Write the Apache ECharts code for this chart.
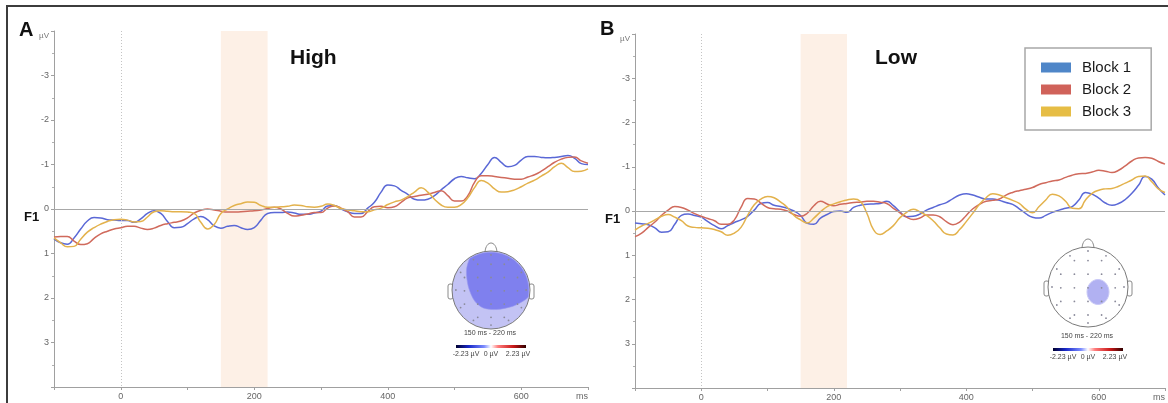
<!DOCTYPE html>
<html>
<head>
<meta charset="utf-8">
<script src="https://cdn.jsdelivr.net/npm/echarts@6/dist/echarts.min.js"></script>
<style>
html,body{margin:0;padding:0;background:#fff;}
#chart{width:1168px;height:403px;}
</style>
</head>
<body>
<div id="chart"></div>
<script>
// Time axis of the grand averages (ms relative to stimulus onset)
const timeMs = [-100,-90,-80,-70,-60,-50,-40,-30,-20,-10,
                0,10,20,30,40,50,60,70,80,90,100,110,120,130,140,150,160,170,180,190,
                200,210,220,230,240,250,260,270,280,290,300,310,320,330,340,350,360,370,380,390,
                400,410,420,430,440,450,460,470,480,490,500,510,520,530,540,550,560,570,580,590,
                600,610,620,630,640,650,660,670,680,690,700];

// Channel F1, amplitude in µV (negative plotted upwards)
const highBlock1 = [0.67,0.76,0.79,0.65,0.45,0.27,0.19,0.2,0.24,0.25,
                    0.26,0.26,0.3,0.22,0.1,0.04,0.1,0.28,0.42,0.41,0.33,0.22,0.17,0.24,0.38,0.43,0.39,0.37,0.42,0.46,
                    0.42,0.25,0.1,0.08,0.08,0.07,0.09,0.12,0.12,0.09,0.05,-0.07,-0.08,0.0,0.06,0.1,0.1,-0.02,-0.15,-0.38,
                    -0.54,-0.52,-0.42,-0.33,-0.22,-0.2,-0.22,-0.3,-0.43,-0.55,-0.68,-0.73,-0.7,-0.68,-0.8,-1.0,-1.16,-1.05,-0.95,-0.98,
                    -1.1,-1.18,-1.18,-1.16,-1.15,-1.16,-1.18,-1.2,-1.14,-1.02,-1.0];
const highBlock2 = [0.63,0.62,0.62,0.72,0.8,0.78,0.66,0.56,0.5,0.45,
                    0.42,0.39,0.39,0.43,0.46,0.43,0.37,0.33,0.3,0.27,0.2,0.09,0.03,0.0,0.02,0.05,0.07,0.07,0.06,0.05,
                    0.04,0.02,-0.01,-0.04,0.0,0.1,0.16,0.14,0.11,0.08,0.08,-0.02,-0.07,-0.02,0.06,0.18,0.18,0.06,-0.05,-0.06,
                    -0.03,-0.05,-0.15,-0.25,-0.28,-0.31,-0.33,-0.37,-0.41,-0.3,-0.18,-0.18,-0.3,-0.6,-0.75,-0.75,-0.73,-0.71,-0.69,-0.67,
                    -0.67,-0.72,-0.77,-0.85,-0.95,-1.05,-1.12,-1.16,-1.17,-1.08,-1.03];
const highBlock3 = [0.65,0.76,0.85,0.84,0.68,0.52,0.42,0.34,0.28,0.24,
                    0.23,0.25,0.29,0.28,0.18,0.06,0.04,0.05,0.06,0.06,0.07,0.1,0.3,0.45,0.35,0.1,0.0,-0.08,-0.12,-0.16,
                    -0.15,-0.08,-0.04,-0.04,-0.05,-0.06,-0.09,-0.08,-0.05,-0.04,-0.06,-0.11,-0.08,-0.01,0.02,0.04,0.06,0.06,0.02,-0.02,
                    -0.1,-0.16,-0.2,-0.28,-0.38,-0.48,-0.38,-0.22,-0.09,-0.04,-0.04,-0.1,-0.25,-0.48,-0.64,-0.58,-0.45,-0.38,-0.39,-0.43,
                    -0.5,-0.58,-0.65,-0.74,-0.83,-0.95,-1.03,-0.93,-0.84,-0.85,-0.9];

const lowBlock1 = [0.27,0.29,0.31,0.38,0.48,0.47,0.3,0.1,0.07,0.1,
                   0.14,0.24,0.33,0.4,0.33,0.26,0.2,0.12,-0.02,-0.17,-0.19,-0.13,-0.1,-0.06,0.0,0.1,0.28,0.3,0.16,0.08,
                   0.01,0.0,0.03,-0.08,-0.13,-0.15,-0.16,-0.17,-0.22,-0.12,0.02,0.13,0.12,0.07,-0.02,-0.08,-0.14,-0.19,-0.28,-0.36,
                   -0.39,-0.36,-0.31,-0.27,-0.27,-0.24,-0.19,-0.15,-0.05,0.06,0.14,0.16,0.1,0.03,-0.02,-0.06,-0.1,-0.25,-0.42,-0.38,
                   -0.29,-0.18,-0.13,-0.17,-0.26,-0.4,-0.58,-0.78,-0.72,-0.52,-0.36];
const lowBlock2 = [0.58,0.5,0.37,0.25,0.1,-0.02,-0.1,-0.08,-0.02,0.06,
                   0.12,0.17,0.22,0.3,0.3,0.2,-0.08,-0.28,-0.27,-0.18,-0.08,-0.05,-0.04,0.0,0.08,0.12,0.05,-0.12,-0.22,-0.16,
                   -0.12,-0.15,-0.17,-0.19,-0.2,-0.22,-0.22,-0.2,-0.17,-0.06,0.04,0.14,0.19,0.16,0.09,0.09,0.13,0.24,0.31,0.25,
                   0.1,-0.05,-0.15,-0.22,-0.24,-0.27,-0.36,-0.42,-0.46,-0.49,-0.53,-0.6,-0.64,-0.68,-0.7,-0.76,-0.81,-0.84,-0.85,-0.88,
                   -0.92,-0.9,-0.87,-0.92,-1.02,-1.13,-1.2,-1.21,-1.19,-1.12,-1.06];
const lowBlock3 = [0.43,0.34,0.28,0.2,0.12,0.08,0.14,0.22,0.34,0.37,
                   0.38,0.39,0.42,0.47,0.55,0.5,0.37,0.1,-0.14,-0.27,-0.33,-0.3,-0.2,-0.08,0.1,0.2,0.27,0.16,0.02,-0.1,
                   -0.16,-0.21,-0.25,-0.27,-0.22,0.05,0.42,0.53,0.45,0.33,0.15,0.03,-0.04,0.02,0.1,0.22,0.38,0.52,0.54,0.42,
                   0.24,0.05,-0.15,-0.3,-0.39,-0.36,-0.3,-0.24,-0.17,-0.04,0.04,-0.1,-0.25,-0.38,-0.34,-0.22,-0.06,-0.05,-0.25,-0.4,
                   -0.47,-0.5,-0.51,-0.56,-0.63,-0.7,-0.78,-0.79,-0.66,-0.5,-0.42];

const blockNames = ['Block 1', 'Block 2', 'Block 3'];
const panelTitles = ['High', 'Low'];
const panelLetters = ['A', 'B'];
const channelName = 'F1';
const windowMs = [150, 220];
const windowLabel = '150 ms - 220 ms';
const scaleLabels = ['-2.23 µV', '0 µV', '2.23 µV'];
const timeUnit = 'ms';
const ampUnit = 'µV';

const lineColors = ['#5a68d6', '#d06a5c', '#e3b24c'];
const legendColors = ['#4f86c8', '#d0625a', '#e6bd45'];
const FONT = 'Liberation Sans, Arial, sans-serif';

function pairs(vals) { return timeMs.map((t, i) => [t, vals[i]]); }

const grids = [
  { left: 54, right: 580, top: 31, bottom: 16 },
  { left: 635, right: 1, top: 34, bottom: 15 }
];

function xAxisFor(g) {
  return {
    gridIndex: g, type: 'value', min: -100, max: 700, interval: 100,
    axisLine: { show: true, onZero: false, lineStyle: { color: '#a0a0a0', width: 1 } },
    axisTick: { show: true, length: 3, lineStyle: { color: '#a0a0a0' } },
    axisLabel: {
      fontSize: 9, color: '#666', fontFamily: FONT, margin: 5, alignMaxLabel: 'right',
      formatter: v => v === 700 ? timeUnit : (v % 200 === 0 ? String(v) : '')
    },
    splitLine: { show: false }
  };
}
function yAxisFor(g) {
  return {
    gridIndex: g, type: 'value', min: -4, max: 4, interval: 1, inverse: true,
    axisLine: { show: true, onZero: false, lineStyle: { color: '#a0a0a0', width: 1 } },
    axisTick: { show: true, length: 3, lineStyle: { color: '#a0a0a0' } },
    minorTick: { show: true, splitNumber: 2, length: 2, lineStyle: { color: '#b0b0b0' } },
    axisLabel: {
      fontSize: 9, color: '#666', fontFamily: FONT, margin: 5,
      formatter: v => v === -4 ? '{u|' + ampUnit + '}' : (v === 4 ? '' : String(v)),
      rich: { u: { fontSize: 8, color: '#777', fontFamily: FONT, padding: [9, 0, 0, 0] } }
    },
    splitLine: { show: false }
  };
}

// Reference lines, stimulus onset and analysis window for each panel
function guideSeries(g) {
  return {
    type: 'line', xAxisIndex: g, yAxisIndex: g, z: 1, silent: true,
    data: [[0, 0]], showSymbol: false, lineStyle: { width: 0, opacity: 0 },
    markArea: {
      silent: true, itemStyle: { color: '#fdf0e6' },
      data: [[{ xAxis: windowMs[0] }, { xAxis: windowMs[1] }]]
    },
    markLine: {
      silent: true, symbol: 'none', label: { show: false },
      data: [
        { xAxis: 0, lineStyle: { color: '#c4c4c4', type: [1, 2], width: 1 } },
        { yAxis: 0, lineStyle: { color: '#a8a8a8', type: 'solid', width: 1 } }
      ]
    }
  };
}

function blockSeries(g, sets) {
  return sets.map((vals, i) => ({
    name: blockNames[i], type: 'line', xAxisIndex: g, yAxisIndex: g, z: 3,
    data: pairs(vals), smooth: 0.5, showSymbol: false, silent: true,
    lineStyle: { color: lineColors[i], width: 1.5 }, itemStyle: { color: lineColors[i] }
  }));
}

// Scalp map drawing helpers
function electrodes(cx, cy, r) {
  const els = [];
  const step = 0.34;
  for (let i = -2; i <= 2; i++) {
    for (let j = -2; j <= 2; j++) {
      const dx = i * step, dy = j * step + 0.02;
      if (Math.hypot(dx, dy) < 0.8) els.push([dx, dy]);
    }
  }
  for (let a = 0; a < 360; a += 30) {
    const rad = a * Math.PI / 180;
    els.push([0.9 * Math.cos(rad), 0.9 * Math.sin(rad)]);
  }
  return els.map(([dx, dy]) => ({
    type: 'circle', silent: true, z: 12,
    shape: { cx: cx + dx * r, cy: cy + dy * r, r: 0.9 },
    style: { fill: '#8a8a9a' }
  }));
}

function headOutline(cx, cy, r, fill) {
  return [
    { type: 'bezierCurve', silent: true, z: 9,
      shape: { x1: cx - 6, y1: cy - r + 1, x2: cx + 6, y2: cy - r + 1,
               cpx1: cx - 5, cpy1: cy - r - 11, cpx2: cx + 5, cpy2: cy - r - 11 },
      style: { stroke: '#8a8a8a', lineWidth: 1, fill: 'none' } },
    { type: 'rect', silent: true, z: 9, shape: { x: cx - r - 4, y: cy - 6, width: 5, height: 15, r: 2 },
      style: { fill: '#fff', stroke: '#8a8a8a', lineWidth: 1 } },
    { type: 'rect', silent: true, z: 9, shape: { x: cx + r - 1, y: cy - 6, width: 5, height: 15, r: 2 },
      style: { fill: '#fff', stroke: '#8a8a8a', lineWidth: 1 } },
    { type: 'circle', silent: true, z: 10, shape: { cx, cy, r },
      style: { fill: fill, stroke: '#7a7a7a', lineWidth: 1 } }
  ];
}

function scaleBar(cx, y) {
  return [
    { type: 'text', silent: true, z: 12, x: cx - 1, y: y - 13,
      style: { text: windowLabel, font: '7px ' + FONT, fill: '#444', align: 'center', verticalAlign: 'middle' } },
    { type: 'rect', silent: true, z: 12, shape: { x: cx - 35, y: y - 1, width: 70, height: 3 },
      style: { fill: new echarts.graphic.LinearGradient(0, 0, 1, 0, [
        { offset: 0, color: '#000030' }, { offset: 0.18, color: '#1828c8' },
        { offset: 0.4, color: '#7c8cff' }, { offset: 0.5, color: '#ffffff' },
        { offset: 0.6, color: '#ff7c7c' }, { offset: 0.82, color: '#c81818' },
        { offset: 1, color: '#300000' }]) } },
    { type: 'text', silent: true, z: 12, x: cx - 25, y: y + 8,
      style: { text: scaleLabels[0], font: '7px ' + FONT, fill: '#444', align: 'center', verticalAlign: 'middle' } },
    { type: 'text', silent: true, z: 12, x: cx + 0, y: y + 8,
      style: { text: scaleLabels[1], font: '7px ' + FONT, fill: '#444', align: 'center', verticalAlign: 'middle' } },
    { type: 'text', silent: true, z: 12, x: cx + 27, y: y + 8,
      style: { text: scaleLabels[2], font: '7px ' + FONT, fill: '#444', align: 'center', verticalAlign: 'middle' } }
  ];
}

function highMap(cx, cy, r) {
  // darker central/right area of the map
  const pts = [];
  for (let a = -125; a <= 12; a += 4) {
    const rad = a * Math.PI / 180;
    pts.push([cx + r * 0.97 * Math.cos(rad), cy + r * 0.97 * Math.sin(rad)]);
  }
  const inner = [[0.8, 0.3], [0.55, 0.42], [0.15, 0.5], [-0.2, 0.46], [-0.42, 0.28], [-0.58, -0.08], [-0.63, -0.5]];
  inner.forEach(([dx, dy]) => pts.push([cx + dx * r, cy + dy * r]));
  return headOutline(cx, cy, r, '#c3c3f4').concat([
    { type: 'polygon', silent: true, z: 11, shape: { points: pts, smooth: 0.3 },
      style: { fill: '#7f80ee', stroke: '#9a9af0', lineWidth: 0.6 } }
  ], electrodes(cx, cy, r), scaleBar(cx, cy + 56));
}

function lowMap(cx, cy, r) {
  return headOutline(cx, cy, r, '#ffffff').concat([
    { type: 'ellipse', silent: true, z: 11, shape: { cx: cx + 10, cy: cy + 5, rx: 11, ry: 12.5 },
      style: { fill: '#b1b1f2', stroke: '#c9c9f7', lineWidth: 1 } }
  ], electrodes(cx, cy, r), scaleBar(cx, cy + 62));
}

function label(text, x, y, size, align) {
  return { type: 'text', silent: true, z: 20, x, y,
    style: { text, font: 'bold ' + size + 'px ' + FONT, fill: '#111', align: align || 'left', verticalAlign: 'middle' } };
}

const chart = echarts.init(document.getElementById('chart'), null, { renderer: 'canvas' });
chart.setOption({
  animation: false,
  backgroundColor: '#ffffff',
  grid: grids,
  xAxis: [xAxisFor(0), xAxisFor(1)],
  yAxis: [yAxisFor(0), yAxisFor(1)],
  legend: {
    left: 1025, top: 48, orient: 'vertical', selectedMode: false,
    itemWidth: 30, itemHeight: 10, itemGap: 5,
    padding: [11, 20, 10, 16],
    borderColor: '#a8a8a8', borderWidth: 1.5, backgroundColor: '#fff',
    textStyle: { fontSize: 15, fontFamily: FONT, color: '#1a1a1a', lineHeight: 17, padding: [0, 0, 0, 6] },
    data: blockNames.map((n, i) => ({ name: n, icon: 'rect', itemStyle: { color: legendColors[i], borderWidth: 0 } }))
  },
  series: [guideSeries(0), guideSeries(1)]
    .concat(blockSeries(0, [highBlock1, highBlock2, highBlock3]))
    .concat(blockSeries(1, [lowBlock1, lowBlock2, lowBlock3])),
  graphic: [
    { type: 'rect', silent: true, z: 30, shape: { x: 7, y: 6, width: 1170, height: 410 },
      style: { fill: 'none', stroke: '#3c3c3c', lineWidth: 2 } },
    label(panelLetters[0], 19, 30, 20),
    label(panelLetters[1], 600, 29, 20),
    label(panelTitles[0], 290, 58, 21),
    label(panelTitles[1], 875, 58, 21),
    label(channelName, 24, 217, 13),
    label(channelName, 605, 219, 13)
  ].concat(highMap(491, 290, 39), lowMap(1088, 287, 40))
});
</script>
</body>
</html>
